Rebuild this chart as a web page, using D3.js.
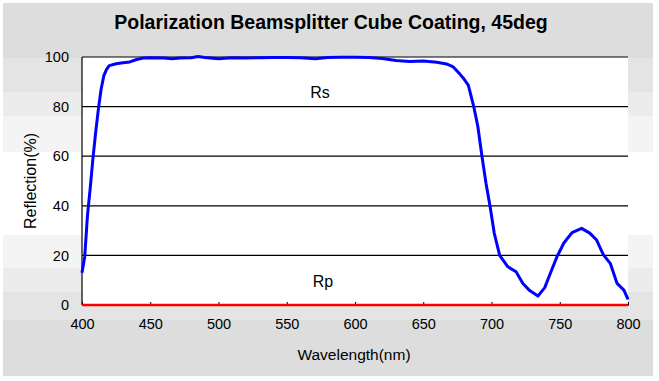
<!DOCTYPE html>
<html><head><meta charset="utf-8">
<script src="https://cdn.jsdelivr.net/npm/d3@7"></script>
<style>body{margin:0;background:#fff}svg{display:block}text{font-family:Arial,"Liberation Sans",sans-serif}</style>
</head><body><svg id="c" width="659" height="381"></svg>
<script>
const title = "Polarization Beamsplitter Cube Coating, 45deg";
const wavelengths = [400,402,404,406,408,410,412,414,416,418,420,425,430,435,440,445,450,460,466,472,480,485,490,500,510,520,530,540,550,560,571,580,590,600,610,620,625,630,640,650,660,667,672,677,680,683,687,690,693,696,699,702,706,712,718,723,728,734,739,744,748,753,759,766,772,777,782,787,792,797,800];
const rsValues = [13,19.5,36,47,59,69.5,79,87,92.5,95,96.5,97.3,97.7,98,99,99.6,99.7,99.6,99.3,99.6,99.7,100.2,99.8,99.3,99.7,99.6,99.7,99.8,99.8,99.7,99.3,99.8,99.9,99.9,99.8,99.4,99,98.6,98.2,98.4,97.9,97.2,96,93,91,88.7,80,72,60,49,39.6,29,20,15.4,13.4,8.7,5.8,3.6,7,14,19.5,25,29.2,30.9,29,26.2,20.2,16.8,8.7,6,2.3];
const rpValues = wavelengths.map(() => 0);
const xTicks = [400,450,500,550,600,650,700,750,800];
const yTicks = [0,20,40,60,80,100];

const svg = d3.select("#c");
const bands = [[3,58,"#dddddd"],[58,92,"#e4e4e4"],[92,116,"#ececec"],[116,152,"#f4f4f4"],[152,235,"#ffffff"],[235,268,"#f4f4f4"],[268,292,"#ececec"],[292,320,"#e4e4e4"],[320,376,"#dddddd"]];
svg.selectAll("rect.band").data(bands).enter().append("rect")
  .attr("x",3).attr("width",650).attr("y",d=>d[0]).attr("height",d=>d[1]-d[0]).attr("fill",d=>d[2]);

const x = d3.scaleLinear().domain([400,800]).range([82,628]);
const y = d3.scaleLinear().domain([0,100]).range([305,57]);

svg.append("rect").attr("x",82).attr("y",57).attr("width",546).attr("height",248).attr("fill","#fff");

svg.selectAll("line.grid").data(yTicks.filter(d=>d>0)).enter().append("line")
  .attr("x1",82).attr("x2",628).attr("y1",d=>y(d)).attr("y2",d=>y(d))
  .attr("stroke","#000").attr("stroke-width",1.2);
svg.append("line").attr("x1",82).attr("x2",82).attr("y1",57).attr("y2",305).attr("stroke","#000").attr("stroke-width",1.2);

const xa = svg.append("g").attr("transform","translate(0,305)")
  .call(d3.axisBottom(x).tickValues(xTicks).tickSizeInner(-3).tickSizeOuter(0).tickPadding(14));
xa.select(".domain").attr("stroke","#000");
xa.selectAll("text").attr("font-size",14.5).attr("fill","#000");
const ya = svg.append("g").attr("transform","translate(82,0)")
  .call(d3.axisLeft(y).tickValues(yTicks).tickSize(0).tickPadding(13));
ya.select(".domain").remove();
ya.selectAll("text").attr("font-size",14.5).attr("fill","#000");

const line = d3.line().x((d,i)=>x(wavelengths[i])).y(d=>y(d));
svg.append("path").datum(rsValues).attr("d",line).attr("fill","none").attr("stroke","#0000ff").attr("stroke-width",3).attr("stroke-linejoin","round");
svg.append("path").datum(rpValues).attr("d",line).attr("fill","none").attr("stroke","#ff0000").attr("stroke-width",2.5);

svg.append("text").attr("x",331).attr("y",29).attr("text-anchor","middle").attr("font-size",19.5).attr("font-weight","bold").text(title);
svg.append("text").attr("x",354).attr("y",360).attr("text-anchor","middle").attr("font-size",15.5).text("Wavelength(nm)");
svg.append("text").attr("transform","translate(36,181) rotate(-90)").attr("text-anchor","middle").attr("font-size",16).text("Reflection(%)");
svg.append("text").attr("x",320).attr("y",98).attr("text-anchor","middle").attr("font-size",16).text("Rs");
svg.append("text").attr("x",323).attr("y",287).attr("text-anchor","middle").attr("font-size",16).text("Rp");
</script></body></html>
